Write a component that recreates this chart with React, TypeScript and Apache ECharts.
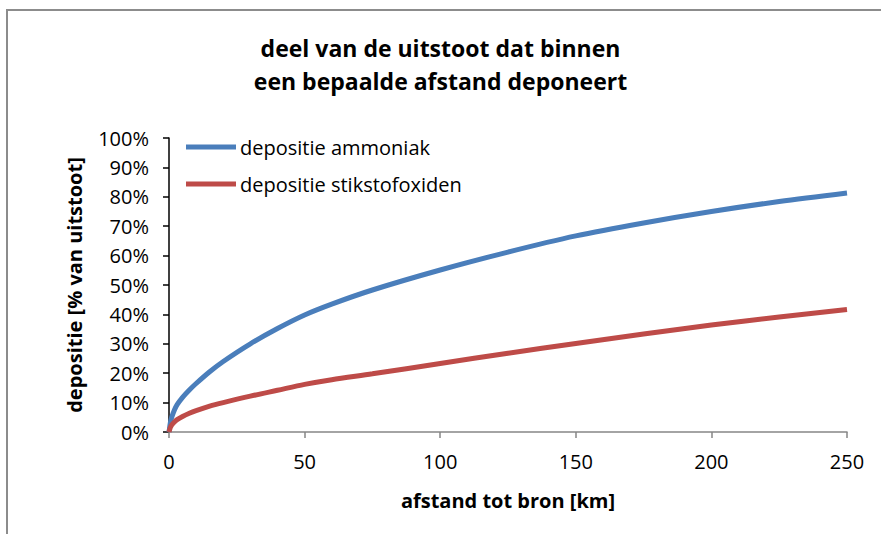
import React, { useEffect, useRef } from "react";
import * as echarts from "echarts";

const distances = [0, 0.5, 1, 2, 3, 5, 7.5, 10, 15, 20, 30, 40, 50, 60, 75, 100, 125, 150, 175, 200, 225, 250];
const ammoniak = [0, 3.2, 5, 7.5, 9.3, 11.8, 14.3, 16.5, 20.5, 24, 30, 35.2, 39.8, 43.5, 48.3, 55.1, 61.2, 66.7, 71.1, 75, 78.4, 81.3];
const stikstofoxiden = [0, 1.6, 2.4, 3.4, 4.2, 5.3, 6.4, 7.3, 8.8, 10, 12.2, 14.2, 16.2, 17.8, 19.8, 23.3, 26.8, 30.1, 33.3, 36.4, 39.1, 41.7];
const seriesNames = ["depositie ammoniak", "depositie stikstofoxiden"];
const titleLines = ["deel van de uitstoot dat binnen", "een bepaalde afstand deponeert"];
const xAxisTitle = "afstand tot bron [km]";
const yAxisTitle = "depositie [% van uitstoot]";

const FONT = "'Open Sans', sans-serif";

export default function App() {
  const ref = useRef<HTMLDivElement>(null);
  useEffect(() => {
    document.body.style.margin = "0";
    const chart = echarts.init(ref.current!, null, { renderer: "svg" });
    const pairs = (ys: number[]) => distances.map((d, i) => [d, ys[i]]);
    chart.setOption({
      animation: false,
      backgroundColor: "#ffffff",
      textStyle: { fontFamily: FONT },
      title: {
        text: titleLines.join("\n"),
        left: "center",
        top: 26,
        textStyle: { fontFamily: FONT, fontWeight: "bold", fontSize: 23, lineHeight: 33, color: "#000" },
      },
      graphic: [
        {
          type: "rect",
          shape: { x: 7, y: 10, width: 900, height: 560 },
          style: { fill: "none", stroke: "#8c8c8c", lineWidth: 2 },
          silent: true,
        },
      ],
      legend: {
        orient: "vertical",
        left: 181,
        top: 132,
        itemWidth: 50,
        itemHeight: 5,
        itemGap: 17,
        icon: "rect",
        textStyle: { fontFamily: FONT, fontSize: 20, color: "#000", padding: [0, 0, 0, -1] },
        data: seriesNames,
      },
      grid: { left: 169, right: 34, top: 138, bottom: 102 },
      xAxis: {
        type: "value",
        min: 0,
        max: 250,
        interval: 50,
        name: xAxisTitle,
        nameLocation: "middle",
        nameGap: 58,
        nameTextStyle: { fontFamily: FONT, fontWeight: "bold", fontSize: 20, color: "#000" },
        axisLine: { lineStyle: { color: "#868686", width: 1.5 } },
        axisTick: { show: true, length: 6, lineStyle: { color: "#868686", width: 1.5 } },
        axisLabel: { fontFamily: FONT, fontSize: 20, color: "#000", margin: 19 },
        splitLine: { show: false },
      },
      yAxis: {
        type: "value",
        min: 0,
        max: 100,
        interval: 10,
        name: yAxisTitle,
        nameLocation: "middle",
        nameGap: 85,
        nameRotate: 90,
        nameTextStyle: { fontFamily: FONT, fontWeight: "bold", fontSize: 20, color: "#000" },
        axisLine: { show: true, lineStyle: { color: "#000", width: 1.5 } },
        axisTick: { show: true, length: 6, lineStyle: { color: "#000", width: 1.5 } },
        axisLabel: { fontFamily: FONT, fontSize: 20, color: "#000", margin: 20, formatter: "{value}%" },
        splitLine: { show: false },
      },
      series: [
        {
          name: seriesNames[0],
          type: "line",
          data: pairs(ammoniak),
          showSymbol: false,
          symbol: "none",
          smooth: 0.3,
          color: "#4a7ebb",
          lineStyle: { color: "#4a7ebb", width: 5 },
        },
        {
          name: seriesNames[1],
          type: "line",
          data: pairs(stikstofoxiden),
          showSymbol: false,
          symbol: "none",
          smooth: 0.3,
          color: "#be4b48",
          lineStyle: { color: "#be4b48", width: 5 },
        },
      ],
    });
    return () => chart.dispose();
  }, []);
  return <div ref={ref} style={{ position: "fixed", left: 0, top: 0, width: 881, height: 534 }} />;
}
